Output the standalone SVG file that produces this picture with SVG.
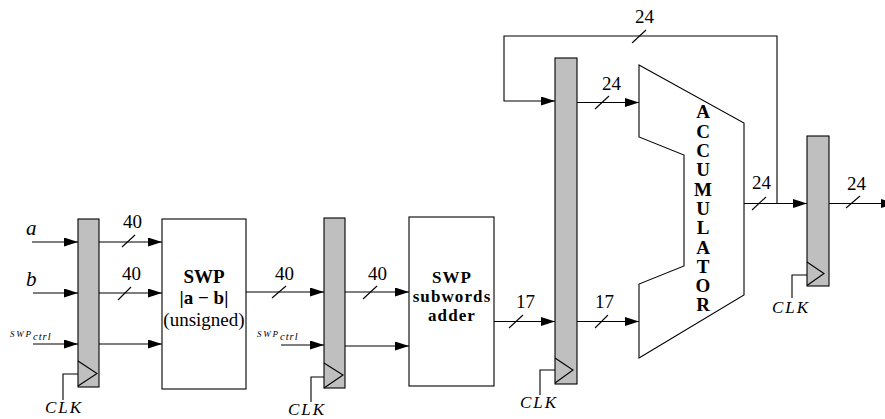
<svg xmlns="http://www.w3.org/2000/svg" width="885" height="419" viewBox="0 0 885 419">
<style>
.w{stroke:#000;stroke-width:1.1;fill:none}
.a{stroke:#000;stroke-width:1.1;fill:none;marker-end:url(#ah)}
.reg{fill:#bfbfbf;stroke:#000;stroke-width:1.1}
.box{fill:#fff;stroke:#000;stroke-width:1.1}
text{font-family:"Liberation Serif","DejaVu Serif","Noto Serif",Times,serif;fill:#000}
.n{font-size:19px}
.it{font-style:italic}
.b{font-weight:bold;font-size:19px;text-anchor:middle}
.bs{font-weight:bold;font-size:17px;text-anchor:middle;letter-spacing:1.1px}
.r{font-size:19px;text-anchor:middle}
</style>
<defs>
<marker id="ah" markerUnits="userSpaceOnUse" markerWidth="14" markerHeight="10" refX="14" refY="4.5" orient="auto">
<path d="M0,0 L14,4.5 L0,9 z" fill="#000"/>
</marker>
</defs>

<g id="connectors">
<line class="a" x1="32" y1="242" x2="78" y2="242"/>
<line class="a" x1="33" y1="293" x2="78" y2="293"/>
<line class="a" x1="33" y1="344" x2="78" y2="344"/>
<line class="a" x1="99" y1="242" x2="162" y2="242"/>
<line class="a" x1="99" y1="293" x2="162" y2="293"/>
<line class="a" x1="99" y1="344" x2="162" y2="344"/>
<line class="w" x1="122" y1="247" x2="135" y2="235"/>
<line class="w" x1="118" y1="300" x2="131" y2="287"/>
<line class="a" x1="246" y1="292" x2="324" y2="292"/>
<line class="w" x1="272" y1="298" x2="286" y2="286"/>
<line class="a" x1="281" y1="345" x2="324" y2="345"/>
<line class="a" x1="345" y1="292" x2="409" y2="292"/>
<line class="w" x1="363" y1="299" x2="377" y2="286"/>
<line class="a" x1="345" y1="346" x2="409" y2="346"/>
<line class="a" x1="494" y1="321.5" x2="555" y2="321.5"/>
<line class="w" x1="509" y1="328" x2="523" y2="315"/>
<line class="a" x1="577" y1="321.5" x2="639" y2="321.5"/>
<line class="w" x1="595" y1="328" x2="608" y2="315"/>
<line class="a" x1="577" y1="102.5" x2="639" y2="102.5"/>
<line class="w" x1="595" y1="109" x2="609" y2="96"/>
<polyline class="a" points="777,203.5 777,36 504,36 504,101 555,101"/>
<line class="w" x1="632" y1="43" x2="646" y2="30"/>
<line class="a" x1="744" y1="203.5" x2="807" y2="203.5"/>
<line class="w" x1="752" y1="210" x2="766" y2="197"/>
<line class="a" x1="829" y1="203.5" x2="895" y2="203.5"/>
<line class="w" x1="846" y1="208" x2="860" y2="196"/>
<polyline class="w" points="63,400 63,374 78,374"/>
<polyline class="w" points="311,402 311,377 324,377"/>
<polyline class="w" points="540,395 540,370 555,370"/>
<polyline class="w" points="792,298 792,275 807,275"/>
</g>

<g id="labels">
<text class="it" x="26" y="235" font-size="21">a</text>
<text class="it" x="26" y="286" font-size="21">b</text>
<text class="it" x="10" y="337" font-size="9" letter-spacing="1.8">SWP</text>
<text class="it" x="33" y="340" font-size="10.5" letter-spacing="1">ctrl</text>
<text class="it" x="257" y="337" font-size="9" letter-spacing="1.8">SWP</text>
<text class="it" x="280" y="340" font-size="10.5" letter-spacing="1">ctrl</text>
<text class="n" x="123" y="228">40</text>
<text class="n" x="122" y="280">40</text>
<text class="n" x="275" y="280">40</text>
<text class="n" x="368" y="280">40</text>
<text class="n" x="516" y="308">17</text>
<text class="n" x="595" y="308">17</text>
<text class="n" x="602" y="90">24</text>
<text class="n" x="635" y="23">24</text>
<text class="n" x="752" y="189">24</text>
<text class="n" x="847" y="190">24</text>
<text class="it" x="45" y="413" font-size="17" letter-spacing="2">CLK</text>
<text class="it" x="288" y="415" font-size="17" letter-spacing="2">CLK</text>
<text class="it" x="520" y="408" font-size="17" letter-spacing="2">CLK</text>
<text class="it" x="772" y="313" font-size="17" letter-spacing="2">CLK</text>
</g>

<g id="reg1">
<rect class="reg" x="78" y="219" width="21" height="168"/>
<polyline class="w" points="78,361 97,373.5 78,386"/>
</g>

<g id="swp_absdiff">
<rect class="box" x="162" y="219" width="84" height="170"/>
<text class="b" x="204" y="283">SWP</text>
<text class="b" x="204" y="304">|a − b|</text>
<text class="r" x="204" y="326">(unsigned)</text>
</g>

<g id="reg2">
<rect class="reg" x="324" y="218" width="21" height="170"/>
<polyline class="w" points="324,363 343,375 324,388"/>
</g>

<g id="swp_adder">
<rect class="box" x="409" y="217" width="85" height="169"/>
<text class="bs" x="452" y="283">SWP</text>
<text class="bs" x="452" y="302">subwords</text>
<text class="bs" x="452" y="321">adder</text>
</g>

<g id="reg3">
<rect class="reg" x="555" y="58" width="22" height="326"/>
<polyline class="w" points="555,358 573,370 555,383"/>
</g>

<g id="accumulator">
<polygon class="box" points="639,65 744,123 744,295 639,358 639,284 684,266 684,155 639,137"/>
<g class="b">
<text x="703" y="118">A</text>
<text x="703" y="137.5">C</text>
<text x="703" y="157">C</text>
<text x="703" y="176">U</text>
<text x="703" y="195.5">M</text>
<text x="703" y="215">U</text>
<text x="703" y="234">L</text>
<text x="703" y="253.5">A</text>
<text x="703" y="273">T</text>
<text x="703" y="292">O</text>
<text x="703" y="311">R</text>
</g>
</g>

<g id="reg4">
<rect class="reg" x="807" y="136" width="22" height="150"/>
<polyline class="w" points="807,262 824,273.5 807,285.5"/>
</g>
</svg>
